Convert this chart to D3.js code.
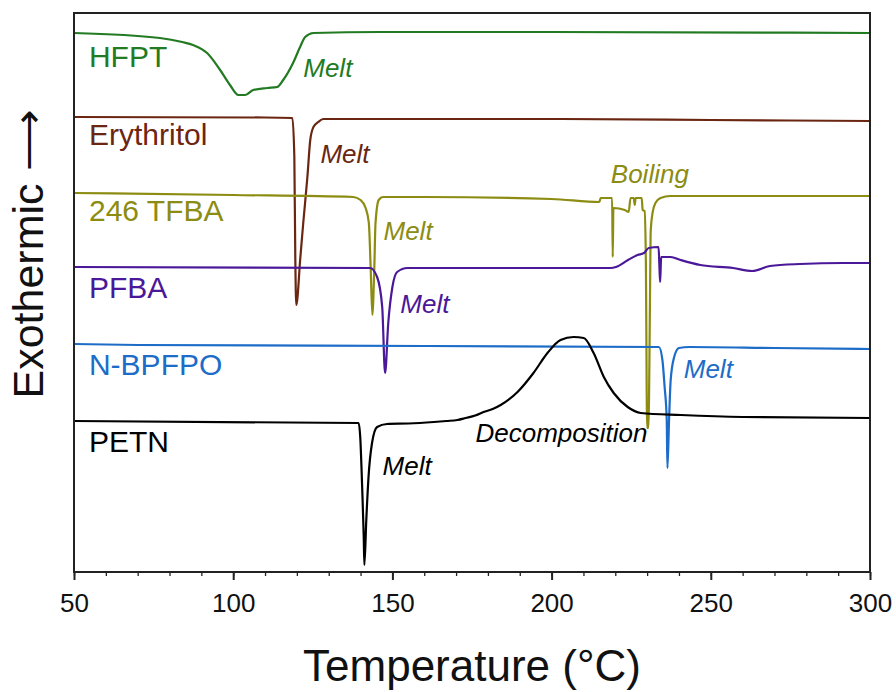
<!DOCTYPE html>
<html>
<head>
<meta charset="utf-8">
<script src="https://cdn.jsdelivr.net/npm/d3@7"></script>
<style>
  html, body { margin: 0; padding: 0; background: #fff; }
  svg { display: block; }
  text { font-family: "Liberation Sans", Arial, sans-serif; }
</style>
</head>
<body>
<svg id="chart" width="896" height="692"></svg>
<script>
// ---- Data: temperature (°C) vs. heat flow (arbitrary units, offset per trace) ----
const hfpt = [[50,53.9],[77,53.4],[84,53.0],[87.4,52.7],[91.8,51.9],[95.9,50.2],[99,48.7],[101.6,47.7],[103.8,47.7],[106.3,48.2],[110.7,48.4],[113.8,48.5],[115.7,49.2],[118.8,50.9],[121,52.5],[122.6,53.5],[125.2,53.9],[146,54.0],[200,54.0],[300,53.9]];
const erythritol = [[50,45.5],[110,45.45],[118.6,45.4],[119.2,41.5],[119.5,31.5],[119.8,26.7],[121.1,31.5],[122,34.9],[123.3,39.5],[124.2,43.2],[125.2,44.5],[126.7,45.0],[128.3,45.3],[200,45.3],[250,45.2],[300,45.1]];
const tfba246 = [[50,37.9],[100,37.7],[137.7,37.5],[140,37.2],[141.6,36.4],[142.6,34.9],[143.2,30.2],[143.7,25.7],[144.3,30.2],[144.7,34.9],[145.7,37.2],[147,37.5],[160,37.5],[200,37.3],[215,37.0],[215.4,37.4],[219,37.4],[219.2,31.5],[219.4,36.4],[223,36.2],[224.2,36.0],[224.8,37.4],[225.8,37.4],[226.1,36.7],[226.4,37.4],[228.3,37.4],[228.6,36.2],[229.2,36.1],[229.6,31.2],[230,14.4],[230.4,14.4],[230.9,27.2],[231.1,33.9],[231.7,35.9],[232.6,36.9],[234.2,37.4],[237.3,37.6],[300,37.6]];
const pfba = [[50,30.5],[143,30.4],[145.2,29.5],[146.8,26.5],[147.7,19.9],[148.7,24.9],[150,28.5],[151.5,30.0],[154.7,30.4],[218.6,30.4],[220.2,30.5],[224,31.2],[227,31.7],[229,31.9],[230.5,32.4],[233.6,32.5],[233.9,30.2],[234.1,29.0],[234.4,31.5],[237.4,31.5],[240.5,31.2],[246.7,30.7],[257,30.4],[263,30.1],[268.6,30.6],[278,30.8],[291.6,30.9],[300,30.9]];
const nbpfpo = [[50,22.8],[70,22.7],[160,22.6],[233.7,22.5],[234.8,21.2],[235.5,18.5],[236.16,15.2],[236.38,10.4],[236.89,15.2],[237.4,19.2],[238.5,21.5],[240,22.4],[243.3,22.5],[270,22.4],[300,22.3]];
const petn = [[50,15.1],[139.4,14.9],[139.9,13.5],[140.5,8.5],[141.0,3.5],[141.2,0.7],[141.8,5.2],[142.5,9.5],[143.6,12.9],[145.2,14.5],[148.3,14.8],[155,14.85],[163,15.0],[167,15.1],[170.4,15.2],[173,15.4],[176,15.65],[178.6,16.0],[181.5,16.3],[184,16.7],[189.3,18.0],[194.3,19.9],[198.7,21.9],[202.8,23.2],[206.9,23.5],[210.1,23.4],[213.2,21.9],[216.4,19.5],[219.5,17.9],[223.9,16.5],[228,15.9],[240.6,15.7],[260,15.5],[300,15.4]];

const seriesNames = ["HFPT", "Erythritol", "246 TFBA", "PFBA", "N-BPFPO", "PETN"];
const seriesData = [hfpt, erythritol, tfba246, pfba, nbpfpo, petn];
const seriesColors = ["#227b22", "#6b2612", "#8c8c12", "#4a1898", "#1c6cc8", "#000000"];
// label anchors [T, value]
const nameAnchors = [[54.7,50.5],[54.7,42.7],[54.7,35.1],[54.7,27.4],[54.7,19.7],[54.7,12.0]];
const notes = [
  {text:"Melt", s:0, at:[122.0,49.5]},
  {text:"Melt", s:1, at:[127.4,40.9]},
  {text:"Melt", s:2, at:[147.2,33.2]},
  {text:"Boiling", s:2, at:[218.6,38.9]},
  {text:"Melt", s:3, at:[152.5,25.9]},
  {text:"Melt", s:4, at:[241.5,19.4]},
  {text:"Melt", s:5, at:[146.9,9.7]},
  {text:"Decomposition", s:5, at:[176.1,13.0]}
];
const xTicks = [50, 100, 150, 200, 250, 300];
const xMinorTicks = d3.range(50, 301, 10);

// ---- Layout ----
const svg = d3.select("#chart");
const L = 74, R = 870, T = 13, B = 572;
const x = d3.scaleLinear().domain([50, 300]).range([L, R]);
const y = d3.scaleLinear().domain([0, 55.9]).range([B, T]);

svg.append("defs").append("clipPath").attr("id", "clip")
  .append("rect").attr("x", L).attr("y", T).attr("width", R - L).attr("height", B - T);

const line = d3.line().x(d => x(d[0])).y(d => y(d[1])).curve(d3.curveMonotoneX);

const g = svg.append("g").attr("clip-path", "url(#clip)");
seriesData.forEach((data, i) => {
  g.append("path").datum(data)
    .attr("d", line)
    .attr("fill", "none")
    .attr("stroke", seriesColors[i])
    .attr("stroke-width", 2.2)
    .attr("stroke-linejoin", "round");
});

// frame
svg.append("rect").attr("x", L).attr("y", T).attr("width", R - L).attr("height", B - T)
  .attr("fill", "none").attr("stroke", "#222").attr("stroke-width", 2);

// x axis
const axisG = svg.append("g").attr("transform", `translate(0,${B})`);
axisG.call(d3.axisBottom(x).tickValues(xMinorTicks).tickSize(4).tickFormat(""))
  .call(a => a.select(".domain").remove())
  .call(a => a.selectAll("line").attr("stroke", "#222").attr("stroke-width", 1.3));
const axisMajor = svg.append("g").attr("transform", `translate(0,${B})`);
axisMajor.call(d3.axisBottom(x).tickValues(xTicks).tickSize(8).tickPadding(14).tickFormat(d3.format("d")))
  .call(a => a.select(".domain").remove())
  .call(a => a.selectAll("line").attr("stroke", "#222").attr("stroke-width", 2))
  .call(a => a.selectAll("text").attr("fill", "#111").attr("font-size", 26)
    .attr("font-family", "'Liberation Sans', Arial, sans-serif"));

// axis titles
svg.append("text").attr("x", (L + R) / 2).attr("y", 681)
  .attr("text-anchor", "middle").attr("font-size", 44).attr("fill", "#111")
  .text("Temperature (°C)");
svg.append("text").attr("transform", `translate(43,254) rotate(-90)`)
  .attr("text-anchor", "middle").attr("font-size", 43).attr("fill", "#111")
  .text("Exothermic \u27F6");

// series names
seriesNames.forEach((n, i) => {
  svg.append("text").attr("x", x(nameAnchors[i][0])).attr("y", y(nameAnchors[i][1]))
    .attr("font-size", 30).attr("fill", seriesColors[i]).text(n);
});
// annotations
notes.forEach(n => {
  svg.append("text").attr("x", x(n.at[0])).attr("y", y(n.at[1]))
    .attr("font-size", 26).attr("font-style", "italic").attr("fill", seriesColors[n.s]).text(n.text);
});
</script>
</body>
</html>
